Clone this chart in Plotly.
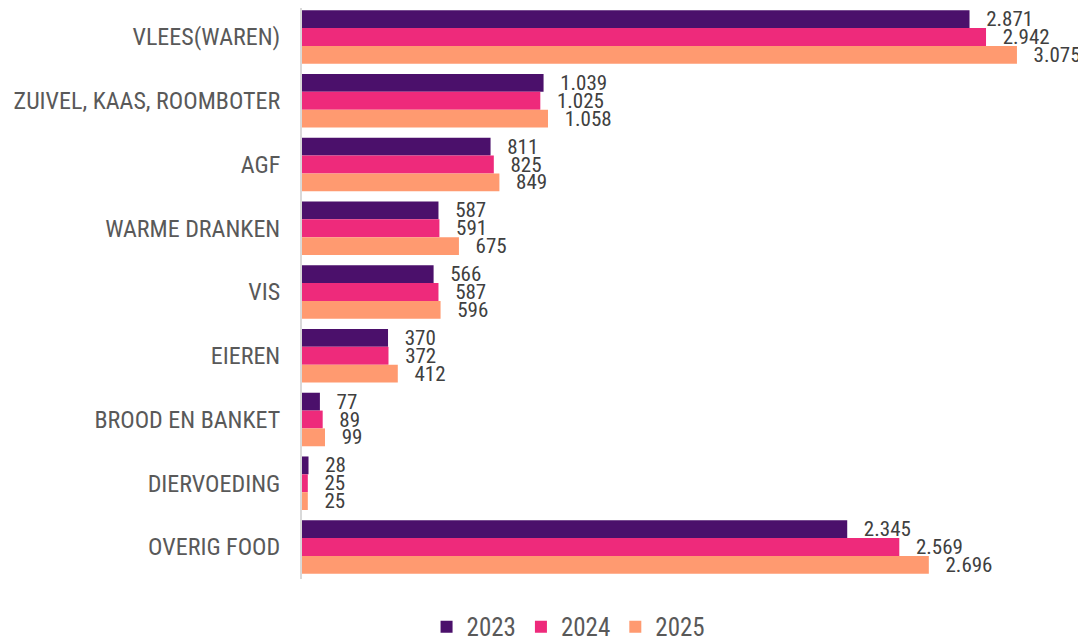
import plotly.graph_objects as go

categories = ["VLEES(WAREN)", "ZUIVEL, KAAS, ROOMBOTER", "AGF", "WARME DRANKEN", "VIS",
              "EIEREN", "BROOD EN BANKET", "DIERVOEDING", "OVERIG FOOD"]
years = ["2023", "2024", "2025"]
v2023 = [2871, 1039, 811, 587, 566, 370, 77, 28, 2345]
v2024 = [2942, 1025, 825, 591, 587, 372, 89, 25, 2569]
v2025 = [3075, 1058, 849, 675, 596, 412, 99, 25, 2696]
colors = ["#4b106b", "#ee2a7b", "#ff9a70"]

FONT = "Roboto Condensed, Liberation Sans Narrow, Roboto, sans-serif"
TXT = "#404040"
CAT = "#595959"

fig = go.Figure()
for name, vals, col in zip(years, [v2023, v2024, v2025], colors):
    fig.add_trace(go.Bar(
        name=name, y=categories, x=vals, orientation="h",
        marker=dict(color=col, line=dict(width=0)),
        texttemplate="\u00a0\u00a0\u2009%{x:,}", textposition="outside",
        textfont=dict(family=FONT, size=21, color=TXT),
        constraintext="none", cliponaxis=False,
    ))

# page body adds an 8px offset; the figure is sized to fit the 1086x640 window
fig.update_layout(
    width=1078, height=632,
    barmode="group", bargap=0.16, bargroupgap=0,
    separators=",.",
    plot_bgcolor="white", paper_bgcolor="white",
    margin=dict(l=294, r=0, t=0, b=61, autoexpand=False),
    font=dict(family=FONT, size=22, color=TXT),
    xaxis=dict(range=[0, 3372], visible=False, showgrid=False, zeroline=False, automargin=False),
    yaxis=dict(range=[8.502, -0.455], showline=True, linecolor="#d9d9d9", linewidth=2,
               ticks="", ticklabelstandoff=15, automargin=False,
               tickfont=dict(family=FONT, size=24, color=CAT)),
    legend=dict(orientation="h", x=0.34, xanchor="center", y=-0.084, yanchor="middle",
                font=dict(family=FONT, size=25, color=CAT), itemwidth=30),
    showlegend=True,
)

fig.write_html("out.html")
